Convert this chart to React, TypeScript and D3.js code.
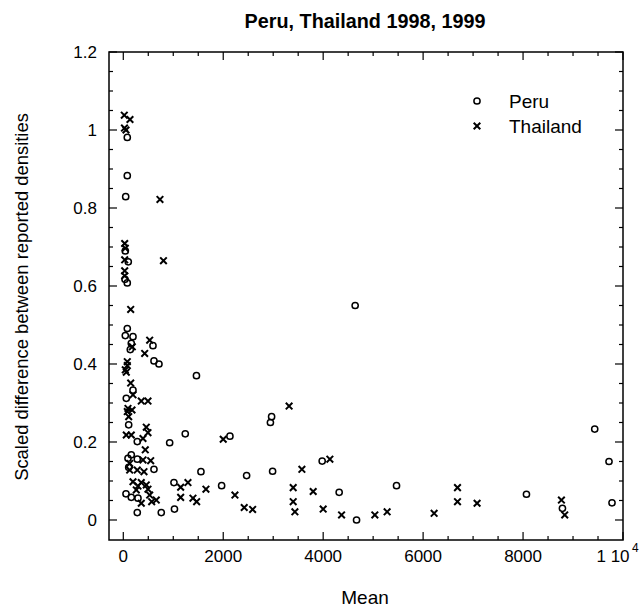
import React from "react";
import * as d3 from "d3";

const peruMean = [80, 80, 48, 40, 100, 34, 80, 80, 40, 194, 160, 140, 594, 614, 714, 1464, 194, 60, 108, 280, 928, 1240, 2134, 2968, 2944, 160, 94, 280, 614, 108, 1554, 2468, 2988, 1968, 1014, 54, 160, 294, 280, 760, 1024, 3980, 4320, 4668, 4640, 5468, 8068, 8788, 9434, 9720, 9780];
const peruDiff = [0.981, 0.883, 0.829, 0.69, 0.662, 0.617, 0.608, 0.491, 0.473, 0.47, 0.453, 0.437, 0.447, 0.408, 0.4, 0.37, 0.333, 0.312, 0.244, 0.201, 0.198, 0.221, 0.215, 0.265, 0.25, 0.167, 0.158, 0.156, 0.13, 0.135, 0.124, 0.114, 0.125, 0.088, 0.096, 0.067, 0.058, 0.056, 0.019, 0.019, 0.028, 0.151, 0.071, 0.0, 0.55, 0.088, 0.066, 0.03, 0.233, 0.15, 0.044];

const thaiMean = [20, 134, 54, 24, 734, 28, 40, 28, 804, 28, 28, 148, 528, 180, 428, 80, 80, 40, 60, 148, 194, 360, 494, 94, 174, 80, 108, 60, 160, 460, 494, 394, 440, 394, 548, 128, 128, 280, 414, 194, 360, 460, 294, 260, 494, 528, 660, 360, 568, 1148, 1294, 1148, 1394, 1468, 1654, 2000, 2234, 2420, 2588, 3318, 3400, 3400, 3434, 3574, 3800, 4134, 4000, 4368, 5034, 5280, 6220, 6688, 6688, 7080, 8768, 8834];
const thaiDiff = [1.038, 1.027, 1.0, 1.005, 0.822, 0.709, 0.697, 0.667, 0.665, 0.639, 0.626, 0.54, 0.461, 0.444, 0.427, 0.406, 0.396, 0.385, 0.379, 0.351, 0.321, 0.305, 0.305, 0.286, 0.282, 0.278, 0.265, 0.218, 0.218, 0.238, 0.224, 0.209, 0.18, 0.154, 0.152, 0.145, 0.128, 0.128, 0.124, 0.098, 0.096, 0.09, 0.087, 0.077, 0.079, 0.064, 0.051, 0.043, 0.047, 0.084, 0.096, 0.058, 0.056, 0.047, 0.079, 0.207, 0.064, 0.032, 0.027, 0.292, 0.083, 0.047, 0.021, 0.13, 0.073, 0.156, 0.028, 0.013, 0.013, 0.021, 0.017, 0.083, 0.047, 0.043, 0.051, 0.013];

const xMajorTicks = [0, 2000, 4000, 6000, 8000];
const yMajorTicks = [0, 0.2, 0.4, 0.6, 0.8, 1, 1.2];
const yTickLabels = ["0", "0.2", "0.4", "0.6", "0.8", "1", "1.2"];

const FONT = "'Liberation Sans', Arial, Helvetica, sans-serif";

export default function App() {
  const W = 644, H = 607;
  const L = 109, R = 623, T = 52, B = 540;
  const x = d3.scaleLinear().domain([-286, 10000]).range([L, R]);
  const y = d3.scaleLinear().domain([-0.0513, 1.2]).range([B, T]);

  const xMinor = d3.range(0, 10001, 500);
  const yMinor = d3.range(0, 1.2001, 0.05);

  const isMajX = (v: number) => Math.abs(v % 2000) < 1e-6;
  const isMajY = (v: number) => Math.abs(Math.round(v * 100) % 20) < 1e-6;

  const cross = (cx: number, cy: number, s: number) =>
    `M${cx - s},${cy - s}L${cx + s},${cy + s}M${cx - s},${cy + s}L${cx + s},${cy - s}`;

  return (
    <svg width={W} height={H} style={{ position: "absolute", left: 0, top: 0, background: "#fff" }}>
      <rect x={0} y={0} width={W} height={H} fill="#fff" />
      <text x={365} y={28} textAnchor="middle" fontFamily={FONT} fontWeight="bold" fontSize={19.8}>
        Peru, Thailand 1998, 1999
      </text>
      {xMinor.map((v) => {
        const len = isMajX(v) ? 8 : 4;
        return (
          <g key={"xt" + v}>
            <line x1={x(v)} x2={x(v)} y1={B} y2={B - len} stroke="#000" strokeWidth={1.2} />
            <line x1={x(v)} x2={x(v)} y1={T} y2={T + len} stroke="#000" strokeWidth={1.2} />
          </g>
        );
      })}
      {yMinor.map((v) => {
        const len = isMajY(v) ? 8 : 4;
        return (
          <g key={"yt" + v.toFixed(2)}>
            <line x1={L} x2={L + len} y1={y(v)} y2={y(v)} stroke="#000" strokeWidth={1.2} />
            <line x1={R} x2={R - len} y1={y(v)} y2={y(v)} stroke="#000" strokeWidth={1.2} />
          </g>
        );
      })}
      <rect x={L} y={T} width={R - L} height={B - T} fill="none" stroke="#000" strokeWidth={1.5} />
      {xMajorTicks.map((v) => (
        <text key={"xl" + v} x={x(v)} y={562} textAnchor="middle" fontFamily={FONT} fontSize={17}>
          {String(v)}
        </text>
      ))}
      <text x={x(10000) - 10} y={562} textAnchor="middle" fontFamily={FONT} fontSize={17}>
        1 10
      </text>
      <text x={x(10000) + 9} y={552} fontFamily={FONT} fontSize={12}>
        4
      </text>
      {yMajorTicks.map((v, i) => (
        <text key={"yl" + v} x={97} y={y(v) + 6} textAnchor="end" fontFamily={FONT} fontSize={17}>
          {yTickLabels[i]}
        </text>
      ))}
      <text x={365} y={604} textAnchor="middle" fontFamily={FONT} fontSize={19}>
        Mean
      </text>
      <text
        transform={`translate(28,${(T + B) / 2 + 1}) rotate(-90)`}
        textAnchor="middle"
        fontFamily={FONT}
        fontSize={18.4}
      >
        Scaled difference between reported densities
      </text>
      {peruMean.map((m, i) => (
        <circle key={"p" + i} cx={x(m)} cy={y(peruDiff[i])} r={3.1} fill="none" stroke="#000" strokeWidth={1.5} />
      ))}
      {thaiMean.map((m, i) => (
        <path key={"t" + i} d={cross(x(m), y(thaiDiff[i]), 3.3)} stroke="#000" strokeWidth={2} fill="none" />
      ))}
      <circle cx={477} cy={101} r={3.1} fill="none" stroke="#000" strokeWidth={1.5} />
      <text x={509} y={108} fontFamily={FONT} fontSize={19}>Peru</text>
      <path d={cross(477, 126, 3.3)} stroke="#000" strokeWidth={2} fill="none" />
      <text x={509} y={133} fontFamily={FONT} fontSize={19}>Thailand</text>
    </svg>
  );
}
